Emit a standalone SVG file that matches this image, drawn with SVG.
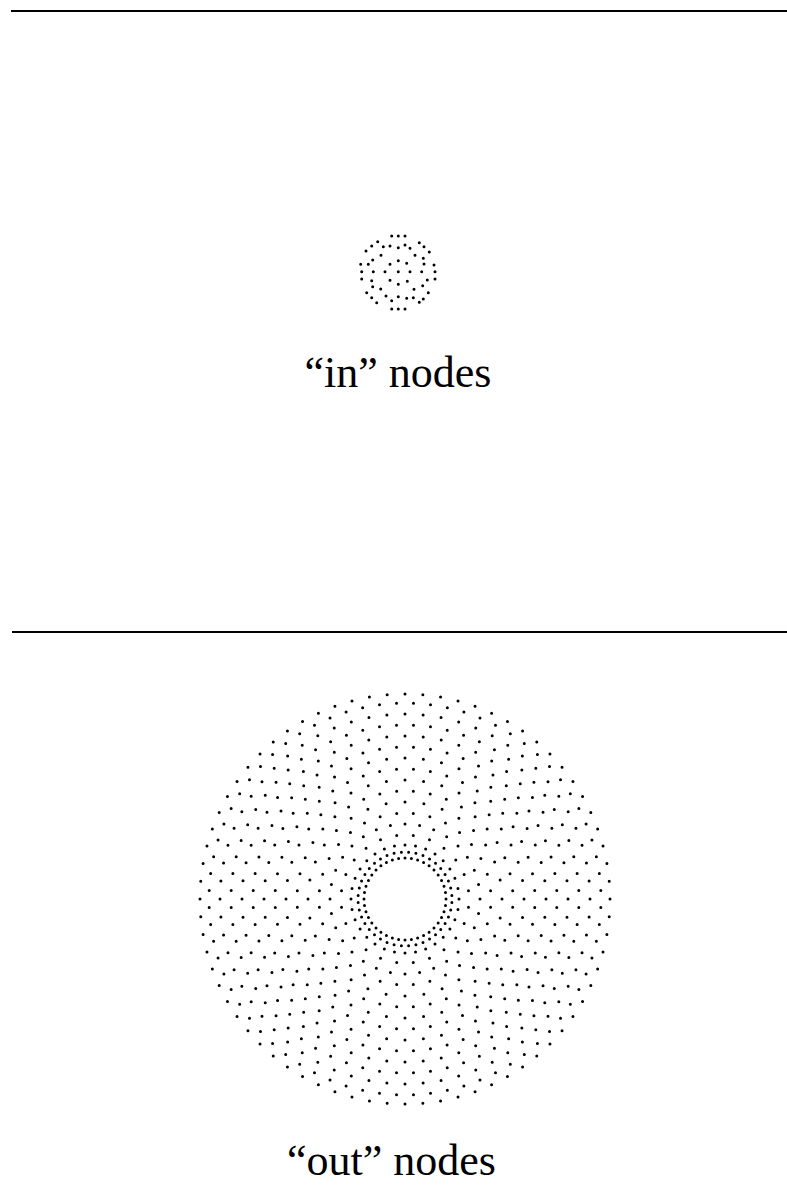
<svg xmlns="http://www.w3.org/2000/svg" width="787" height="1187" viewBox="0 0 787 1187">
<style>
.rule{stroke:#000;stroke-width:2;fill:none}
.dots{fill:none;stroke:#000;stroke-width:3;stroke-linecap:round}
.ring{fill:none;stroke:#000;stroke-width:3;stroke-linecap:round;stroke-dasharray:0 1}
.o{stroke-dashoffset:0.5}
.lbl{font-family:"Liberation Serif","Times New Roman",serif;font-size:44px;fill:#000;text-anchor:middle}
</style>
<rect width="787" height="1187" fill="#fff"/>
<g id="rules">
<line class="rule" x1="11" y1="11" x2="787" y2="11"/>
<line class="rule" x1="12" y1="632" x2="787" y2="632"/>
</g>
<g id="in-nodes">
<path class="dots" d="M391.7 236h0M398.3 236h0M405 236h0M377.7 241.7h0M419.3 242.7h0M371.7 246h0M424 246.7h0M366 251h0M429.3 252h0M383.3 246.7h0M390 246h0M398.3 247.7h0M405 245h0M410 248.3h0M381 255.3h0M415 255.3h0M372.7 260h0M423.3 258.3h0M360.7 264.3h0M368.3 264.3h0M390 264.3h0M398.3 260.7h0M406.7 263.3h0M424 264h0M434 265h0M361.7 271.7h0M373.3 271.7h0M385 271.7h0M398.3 271.7h0M410 271.7h0M421.7 271.7h0M435 271.7h0M361.7 279h0M371.7 280.7h0M390 280.3h0M398.3 284.3h0M407.3 281.3h0M427.3 280h0M435 279h0M372.7 286.7h0M380.7 289h0M414 289.3h0M422.7 285.7h0M366.7 292.7h0M428.3 292.7h0M371.7 297.7h0M386 296h0M391.7 300.7h0M398.3 296.7h0M406.7 298.3h0M413.3 297.7h0M423.3 299h0M376.7 302.7h0M419.3 302.3h0M391.7 309h0M398.3 309h0M405 309h0"/>
<text class="lbl" x="398" y="387">“in” nodes</text>
</g>
<g id="out-nodes">
<circle class="ring" cx="405" cy="899" r="41" pathLength="40"/>
<circle class="ring o" cx="405" cy="899" r="47" pathLength="40"/>
<circle class="ring" cx="405" cy="899" r="54" pathLength="32"/>
<circle class="ring o" cx="405" cy="899" r="64" pathLength="24"/>
<circle class="ring" cx="405" cy="899" r="75" pathLength="32"/>
<circle class="ring o" cx="405" cy="899" r="86" pathLength="32"/>
<circle class="ring" cx="405" cy="899" r="97" pathLength="32"/>
<circle class="ring o" cx="405" cy="899" r="108" pathLength="40"/>
<circle class="ring" cx="405" cy="899" r="119" pathLength="40"/>
<circle class="ring o" cx="405" cy="899" r="130" pathLength="48"/>
<circle class="ring" cx="405" cy="899" r="141" pathLength="48"/>
<circle class="ring o" cx="405" cy="899" r="152" pathLength="56"/>
<circle class="ring" cx="405" cy="899" r="163" pathLength="56"/>
<circle class="ring o" cx="405" cy="899" r="174" pathLength="64"/>
<circle class="ring" cx="405" cy="899" r="185" pathLength="64"/>
<circle class="ring o" cx="405" cy="899" r="196" pathLength="72"/>
<circle class="ring" cx="405" cy="899" r="205" pathLength="72"/>
<text class="lbl" x="391.5" y="1175">“out” nodes</text>
</g>
</svg>
